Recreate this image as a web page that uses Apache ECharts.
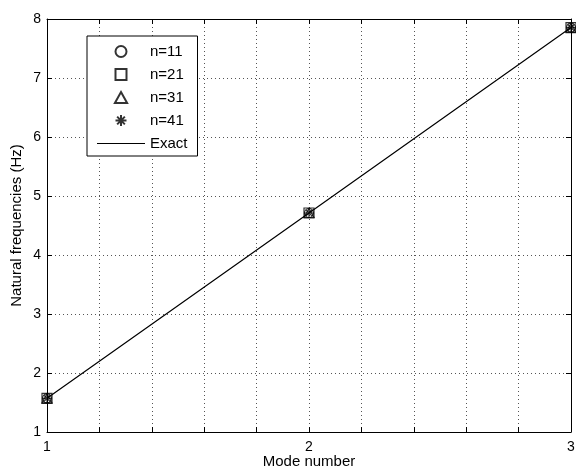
<!DOCTYPE html>
<html>
<head>
<meta charset="utf-8">
<script src="https://cdn.jsdelivr.net/npm/echarts@6/dist/echarts.min.js"></script>
<style>
  html, body { margin: 0; padding: 0; background: #fff; }
  #chart { width: 576px; height: 472px; }
</style>
</head>
<body>
<div id="chart"></div>
<script>
const modes = [1, 2, 3];
const n11 = [1.571, 4.712, 7.854];
const n21 = [1.571, 4.712, 7.854];
const n31 = [1.571, 4.712, 7.854];
const n41 = [1.571, 4.712, 7.854];
const exact = [1.5708, 4.7124, 7.854];

const squarePath = 'path://M0,0 L10,0 L10,10 L0,10 Z';
const trianglePath = 'path://M5,0 L10,9 L0,9 Z';
const starPath = 'path://M5,0 L5,10 M0,5 L10,5 M1.5,1.5 L8.5,8.5 M8.5,1.5 L1.5,8.5';
const linePath = 'path://M0,0 L48,0 L48,1 L0,1 Z';
const font = 'Liberation Sans, Arial, sans-serif';

const chart = echarts.init(document.getElementById('chart'));

function pts(ys) { return modes.map((m, i) => [m, ys[i]]); }

function markerSeries(name, ys, symbol, size) {
  return {
    name: name, type: 'scatter', data: pts(ys), symbol: symbol, symbolSize: size,
    symbolKeepAspect: true,
    itemStyle: { color: 'rgba(0,0,0,0)', borderColor: '#000', borderWidth: 1.2 },
    z: 5
  };
}

const tick = { show: true, inside: true, length: 5, lineStyle: { color: '#000' } };
const axisLineStyle = { show: true, lineStyle: { color: '#000', width: 1 } };
const gridLine = { show: true, lineStyle: { color: '#555', type: [1, 3], width: 1 } };

chart.setOption({
  animation: false,
  backgroundColor: '#fff',
  grid: { left: 47, right: 5, top: 19, bottom: 40, containLabel: false, outerBoundsMode: 'none' },
  legend: {
    orient: 'vertical', left: 87, top: 36,
    padding: [8, 10, 5, 10],
    itemWidth: 48, itemHeight: 11, itemGap: 8,
    symbolKeepAspect: true,
    borderColor: '#000', borderWidth: 1, backgroundColor: '#fff',
    textStyle: { fontFamily: font, fontSize: 15, color: '#000' },
    data: [
      { name: 'n=11', icon: 'circle' },
      { name: 'n=21', icon: squarePath },
      { name: 'n=31', icon: trianglePath },
      { name: 'n=41', icon: starPath },
      { name: 'Exact', icon: linePath }
    ]
  },
  xAxis: [{
    type: 'value', min: 1, max: 3, interval: 0.2, position: 'bottom',
    name: 'Mode number', nameLocation: 'middle', nameGap: 22, nameMoveOverlap: false,
    nameTextStyle: { fontFamily: font, fontSize: 15, color: '#000' },
    axisLine: axisLineStyle, axisTick: tick,
    axisLabel: { color: '#000', fontFamily: font, fontSize: 14, margin: 8,
      formatter: v => Math.abs(v - Math.round(v)) < 1e-6 ? String(Math.round(v)) : '' },
    splitLine: gridLine
  }, {
    type: 'value', min: 1, max: 3, interval: 0.2, position: 'top',
    axisLine: axisLineStyle, axisTick: tick, axisLabel: { show: false }, splitLine: { show: false }
  }],
  yAxis: [{
    type: 'value', min: 1, max: 8, interval: 1, position: 'left',
    name: 'Natural frequencies (Hz)', nameLocation: 'middle', nameGap: 23, nameMoveOverlap: false,
    nameTextStyle: { fontFamily: font, fontSize: 15, color: '#000' },
    axisLine: axisLineStyle, axisTick: tick,
    axisLabel: { color: '#000', fontFamily: font, fontSize: 14, margin: 6 },
    splitLine: gridLine
  }, {
    type: 'value', min: 1, max: 8, interval: 1, position: 'right',
    axisLine: axisLineStyle, axisTick: tick, axisLabel: { show: false }, splitLine: { show: false }
  }],
  series: [
    markerSeries('n=11', n11, 'circle', 9),
    markerSeries('n=21', n21, squarePath, 10),
    markerSeries('n=31', n31, trianglePath, 10),
    markerSeries('n=41', n41, starPath, 9),
    {
      name: 'Exact', type: 'line', data: pts(exact), symbol: 'none',
      lineStyle: { color: '#000', width: 1.2 }, itemStyle: { color: '#000' }, z: 4
    }
  ]
});
</script>
</body>
</html>
